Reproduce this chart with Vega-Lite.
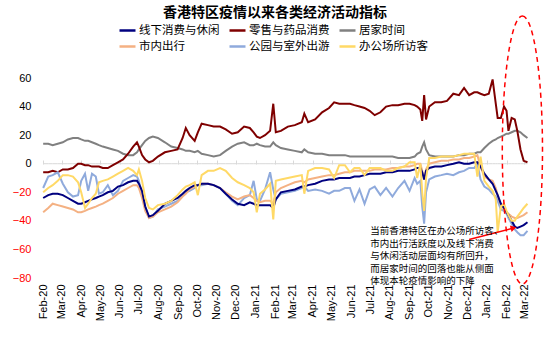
{
  "$schema": "https://vega.github.io/schema/vega-lite/v6.json",
  "width": 490,
  "height": 200,
  "autosize": {"type": "none"},
  "padding": {"left": 40, "top": 78, "right": 20, "bottom": 77},
  "background": "white",
  "title": {"text": "香港特区疫情以来各类经济活动指标", "font": "Noto Sans CJK SC", "fontSize": 14, "fontWeight": "bold", "color": "#000000", "anchor": "middle", "frame": "group", "offset": -7, "dx": -10},
  "config": {"view": {"stroke": null}, "font": "Liberation Sans", "axisY": {"grid": false, "domain": false, "ticks": false, "labelPadding": 9, "labelFontSize": 11, "labelFont": "Liberation Sans", "labelOverlap": false}},
  "data": {"values": [
    {"d": "2020-02-15", "线下消费与休闲": -24, "零售与药品消费": -6, "居家时间": 14, "市内出行": -34, "公园与室外出游": -17, "办公场所访客": -20},
    {"d": "2020-02-23", "线下消费与休闲": -22, "零售与药品消费": -6, "居家时间": 14, "市内出行": -31, "公园与室外出游": -9, "办公场所访客": -17},
    {"d": "2020-03-01", "线下消费与休闲": -21, "零售与药品消费": -5, "居家时间": 13, "市内出行": -28, "公园与室外出游": -8, "办公场所访客": -15},
    {"d": "2020-03-09", "线下消费与休闲": -21, "零售与药品消费": -6, "居家时间": 14, "市内出行": -29, "公园与室外出游": -6, "办公场所访客": -12},
    {"d": "2020-03-17", "线下消费与休闲": -22, "零售与药品消费": -4, "居家时间": 15, "市内出行": -30, "公园与室外出游": -14, "办公场所访客": -8},
    {"d": "2020-03-25", "线下消费与休闲": -24, "零售与药品消费": -4, "居家时间": 17, "市内出行": -31, "公园与室外出游": -20, "办公场所访客": -8},
    {"d": "2020-04-02", "线下消费与休闲": -26, "零售与药品消费": -3, "居家时间": 18, "市内出行": -32, "公园与室外出游": -23, "办公场所访客": -9},
    {"d": "2020-04-10", "线下消费与休闲": -28, "零售与药品消费": 0, "居家时间": 18, "市内出行": -34, "公园与室外出游": -22, "办公场所访客": -13},
    {"d": "2020-04-15", "线下消费与休闲": -28, "零售与药品消费": 0, "居家时间": 17, "市内出行": -34, "公园与室外出游": -12, "办公场所访客": -20},
    {"d": "2020-04-21", "线下消费与休闲": -27, "零售与药品消费": -1, "居家时间": 16, "市内出行": -33, "公园与室外出游": -7, "办公场所访客": -31},
    {"d": "2020-04-26", "线下消费与休闲": -26, "零售与药品消费": -1, "居家时间": 16, "市内出行": -32, "公园与室外出游": -19, "办公场所访客": -28},
    {"d": "2020-05-02", "线下消费与休闲": -25, "零售与药品消费": -2, "居家时间": 15, "市内出行": -31, "公园与室外出游": -7, "办公场所访客": -24},
    {"d": "2020-05-08", "线下消费与休闲": -24, "零售与药品消费": -2, "居家时间": 14, "市内出行": -30, "公园与室外出游": -9, "办公场所访客": -21},
    {"d": "2020-05-13", "线下消费与休闲": -23, "零售与药品消费": -2, "居家时间": 13, "市内出行": -29, "公园与室外出游": -21, "办公场所访客": -13},
    {"d": "2020-05-19", "线下消费与休闲": -22, "零售与药品消费": -3, "居家时间": 12, "市内出行": -28, "公园与室外出游": -20, "办公场所访客": -12},
    {"d": "2020-05-27", "线下消费与休闲": -20, "零售与药品消费": -3, "居家时间": 11, "市内出行": -26, "公园与室外出游": -15, "办公场所访客": -11},
    {"d": "2020-06-04", "线下消费与休闲": -19, "零售与药品消费": -1, "居家时间": 10, "市内出行": -24, "公园与室外出游": -22, "办公场所访客": -9},
    {"d": "2020-06-12", "线下消费与休闲": -16, "零售与药品消费": 1, "居家时间": 9, "市内出行": -21, "公园与室外出游": -19, "办公场所访客": -7},
    {"d": "2020-06-20", "线下消费与休闲": -15, "零售与药品消费": 3, "居家时间": 7, "市内出行": -19, "公园与室外出游": -12, "办公场所访客": -5},
    {"d": "2020-06-28", "线下消费与休闲": -13, "零售与药品消费": 7, "居家时间": 6, "市内出行": -17, "公园与室外出游": -10, "办公场所访客": -3},
    {"d": "2020-07-06", "线下消费与休闲": -12, "零售与药品消费": 12, "居家时间": 6, "市内出行": -15, "公园与室外出游": -8, "办公场所访客": -5},
    {"d": "2020-07-12", "线下消费与休闲": -12, "零售与药品消费": 15, "居家时间": 8, "市内出行": -15, "公园与室外出游": -9, "办公场所访客": -8},
    {"d": "2020-07-15", "线下消费与休闲": -14, "零售与药品消费": 12, "居家时间": 10, "市内出行": -17, "公园与室外出游": -12, "办公场所访客": -4},
    {"d": "2020-07-20", "线下消费与休闲": -19, "零售与药品消费": 6, "居家时间": 13, "市内出行": -24, "公园与室外出游": -22, "办公场所访客": -12},
    {"d": "2020-07-25", "线下消费与休闲": -30, "零售与药品消费": 3, "居家时间": 16, "市内出行": -33, "公园与室外出游": -30, "办公场所访客": -24},
    {"d": "2020-07-31", "线下消费与休闲": -37, "零售与药品消费": 1, "居家时间": 18, "市内出行": -38, "公园与室外出游": -38, "办公场所访客": -31},
    {"d": "2020-08-06", "线下消费与休闲": -36, "零售与药品消费": 2, "居家时间": 19, "市内出行": -37, "公园与室外出游": -37, "办公场所访客": -32},
    {"d": "2020-08-14", "线下消费与休闲": -33, "零售与药品消费": 5, "居家时间": 18, "市内出行": -34, "公园与室外出游": -32, "办公场所访客": -29},
    {"d": "2020-08-25", "线下消费与休闲": -28, "零售与药品消费": 8, "居家时间": 15, "市内出行": -32, "公园与室外出游": -30, "办公场所访客": -28},
    {"d": "2020-09-04", "线下消费与休闲": -26, "零售与药品消费": 9, "居家时间": 12, "市内出行": -30, "公园与室外出游": -28, "办公场所访客": -26},
    {"d": "2020-09-14", "线下消费与休闲": -24, "零售与药品消费": 10, "居家时间": 11, "市内出行": -27, "公园与室外出游": -26, "办公场所访客": -22},
    {"d": "2020-09-22", "线下消费与休闲": -21, "零售与药品消费": 18, "居家时间": 10, "市内出行": -23, "公园与室外出游": -22, "办公场所访客": -18},
    {"d": "2020-09-27", "线下消费与休闲": -19, "零售与药品消费": 25, "居家时间": 9, "市内出行": -21, "公园与室外出游": -20, "办公场所访客": -16},
    {"d": "2020-10-03", "线下消费与休闲": -17, "零售与药品消费": 20, "居家时间": 9, "市内出行": -18, "公园与室外出游": -19, "办公场所访客": -15},
    {"d": "2020-10-11", "线下消费与休闲": -15, "零售与药品消费": 16, "居家时间": 8, "市内出行": -16, "公园与室外出游": -17, "办公场所访客": -13},
    {"d": "2020-10-16", "线下消费与休闲": -15, "零售与药品消费": 22, "居家时间": 9, "市内出行": -15, "公园与室外出游": -15, "办公场所访客": -22},
    {"d": "2020-10-22", "线下消费与休闲": -14, "零售与药品消费": 28, "居家时间": 7, "市内出行": -14, "公园与室外出游": -15, "办公场所访客": -8},
    {"d": "2020-11-01", "线下消费与休闲": -14, "零售与药品消费": 27, "居家时间": 6, "市内出行": -14, "公园与室外出游": -14, "办公场所访客": -5},
    {"d": "2020-11-10", "线下消费与休闲": -15, "零售与药品消费": 26, "居家时间": 5, "市内出行": -15, "公园与室外出游": -15, "办公场所访客": -5},
    {"d": "2020-11-20", "线下消费与休闲": -17, "零售与药品消费": 26, "居家时间": 6, "市内出行": -17, "公园与室外出游": -17, "办公场所访客": -3},
    {"d": "2020-11-29", "线下消费与休闲": -21, "零售与药品消费": 24, "居家时间": 9, "市内出行": -20, "公园与室外出游": -21, "办公场所访客": -5},
    {"d": "2020-12-09", "线下消费与休闲": -25, "零售与药品消费": 21, "居家时间": 12, "市内出行": -23, "公园与室外出游": -26, "办公场所访客": -10},
    {"d": "2020-12-18", "线下消费与休闲": -28, "零售与药品消费": 22, "居家时间": 14, "市内出行": -25, "公园与室外出游": -29, "办公场所访客": -13},
    {"d": "2020-12-28", "线下消费与休闲": -29, "零售与药品消费": 26, "居家时间": 15, "市内出行": -23, "公园与室外出游": -24, "办公场所访客": -15},
    {"d": "2021-01-06", "线下消费与休闲": -27, "零售与药品消费": 25, "居家时间": 13, "市内出行": -22, "公园与室外出游": -22, "办公场所访客": -17},
    {"d": "2021-01-12", "线下消费与休闲": -28, "零售与药品消费": 22, "居家时间": 13, "市内出行": -24, "公园与室外出游": -12, "办公场所访客": -20},
    {"d": "2021-01-17", "线下消费与休闲": -29, "零售与药品消费": 19, "居家时间": 14, "市内出行": -26, "公园与室外出游": -25, "办公场所访客": -34},
    {"d": "2021-01-22", "线下消费与休闲": -29, "零售与药品消费": 18, "居家时间": 13, "市内出行": -27, "公园与室外出游": -26, "办公场所访客": -21},
    {"d": "2021-01-30", "线下消费与休闲": -29, "零售与药品消费": 20, "居家时间": 12, "市内出行": -26, "公园与室外出游": -18, "办公场所访客": -18},
    {"d": "2021-02-07", "线下消费与休闲": -29, "零售与药品消费": 23, "居家时间": 12, "市内出行": -26, "公园与室外出游": -6, "办公场所访客": -14},
    {"d": "2021-02-12", "线下消费与休闲": -31, "零售与药品消费": 42, "居家时间": 15, "市内出行": -28, "公园与室外出游": -18, "办公场所访客": -39},
    {"d": "2021-02-16", "线下消费与休闲": -25, "零售与药品消费": 22, "居家时间": 13, "市内出行": -20, "公园与室外出游": -25, "办公场所访客": -12},
    {"d": "2021-02-24", "线下消费与休闲": -20, "零售与药品消费": 23, "居家时间": 11, "市内出行": -17, "公园与室外出游": -21, "办公场所访客": -11},
    {"d": "2021-03-07", "线下消费与休闲": -19, "零售与药品消费": 26, "居家时间": 10, "市内出行": -15, "公园与室外出游": -20, "办公场所访客": -10},
    {"d": "2021-03-18", "线下消费与休闲": -18, "零售与药品消费": 27, "居家时间": 9, "市内出行": -13, "公园与室外出游": -19, "办公场所访客": -9},
    {"d": "2021-03-29", "线下消费与休闲": -16, "零售与药品消费": 29, "居家时间": 8, "市内出行": -12, "公园与室外出游": -17, "办公场所访客": -8},
    {"d": "2021-04-02", "线下消费与休闲": -16, "零售与药品消费": 35, "居家时间": 10, "市内出行": -13, "公园与室外出游": -16, "办公场所访客": -21},
    {"d": "2021-04-08", "线下消费与休闲": -15, "零售与药品消费": 29, "居家时间": 8, "市内出行": -11, "公园与室外出游": -19, "办公场所访客": -5},
    {"d": "2021-04-19", "线下消费与休闲": -14, "零售与药品消费": 31, "居家时间": 7, "市内出行": -10, "公园与室外出游": -18, "办公场所访客": -3},
    {"d": "2021-04-30", "线下消费与休闲": -12, "零售与药品消费": 36, "居家时间": 7, "市内出行": -9, "公园与室外出游": -19, "办公场所访客": -3},
    {"d": "2021-05-11", "线下消费与休闲": -11, "零售与药品消费": 39, "居家时间": 6, "市内出行": -8, "公园与室外出游": -21, "办公场所访客": -4},
    {"d": "2021-05-19", "线下消费与休闲": -11, "零售与药品消费": 43, "居家时间": 6, "市内出行": -8, "公园与室外出游": -19, "办公场所访客": -10},
    {"d": "2021-05-27", "线下消费与休闲": -10, "零售与药品消费": 42, "居家时间": 6, "市内出行": -7, "公园与室外出游": -19, "办公场所访客": -1},
    {"d": "2021-06-05", "线下消费与休闲": -10, "零售与药品消费": 42, "居家时间": 6, "市内出行": -6, "公园与室外出游": -17, "办公场所访客": -1},
    {"d": "2021-06-13", "线下消费与休闲": -10, "零售与药品消费": 42, "居家时间": 5, "市内出行": -6, "公园与室外出游": -17, "办公场所访客": -6},
    {"d": "2021-06-20", "线下消费与休闲": -9, "零售与药品消费": 41, "居家时间": 5, "市内出行": -5, "公园与室外出游": -26, "办公场所访客": -3},
    {"d": "2021-06-28", "线下消费与休闲": -9, "零售与药品消费": 40, "居家时间": 5, "市内出行": -5, "公园与室外出游": -18, "办公场所访客": -3},
    {"d": "2021-07-06", "线下消费与休闲": -8, "零售与药品消费": 39, "居家时间": 5, "市内出行": -5, "公园与室外出游": -28, "办公场所访客": -8},
    {"d": "2021-07-14", "线下消费与休闲": -7, "零售与药品消费": 37, "居家时间": 5, "市内出行": -5, "公园与室外出游": -18, "办公场所访客": -3},
    {"d": "2021-07-22", "线下消费与休闲": -7, "零售与药品消费": 34, "居家时间": 5, "市内出行": -4, "公园与室外出游": -16, "办公场所访客": -3},
    {"d": "2021-07-31", "线下消费与休闲": -7, "零售与药品消费": 36, "居家时间": 5, "市内出行": -4, "公园与室外出游": -22, "办公场所访客": -3},
    {"d": "2021-08-09", "线下消费与休闲": -6, "零售与药品消费": 40, "居家时间": 5, "市内出行": -4, "公园与室外出游": -17, "办公场所访客": -5},
    {"d": "2021-08-19", "线下消费与休闲": -6, "零售与药品消费": 41, "居家时间": 5, "市内出行": -3, "公园与室外出游": -23, "办公场所访客": -5},
    {"d": "2021-08-28", "线下消费与休闲": -5, "零售与药品消费": 41, "居家时间": 4, "市内出行": -3, "公园与室外出游": -17, "办公场所访客": -3},
    {"d": "2021-09-07", "线下消费与休闲": -5, "零售与药品消费": 42, "居家时间": 4, "市内出行": -2, "公园与室外出游": -12, "办公场所访客": -2},
    {"d": "2021-09-15", "线下消费与休闲": -5, "零售与药品消费": 42, "居家时间": 4, "市内出行": -2, "公园与室外出游": -19, "办公场所访客": 1},
    {"d": "2021-09-23", "线下消费与休闲": -4, "零售与药品消费": 41, "居家时间": 5, "市内出行": -1, "公园与室外出游": -10, "办公场所访客": 1},
    {"d": "2021-09-27", "线下消费与休闲": -3, "零售与药品消费": 40, "居家时间": 7, "市内出行": 0, "公园与室外出游": -14, "办公场所访客": -10},
    {"d": "2021-10-02", "线下消费与休闲": -3, "零售与药品消费": 38, "居家时间": 8, "市内出行": 0, "公园与室外出游": -12, "办公场所访客": 0},
    {"d": "2021-10-05", "线下消费与休闲": -6, "零售与药品消费": 30, "居家时间": 12, "市内出行": -5, "公园与室外出游": -30, "办公场所访客": -20},
    {"d": "2021-10-08", "线下消费与休闲": -11, "零售与药品消费": 48, "居家时间": 15, "市内出行": -11, "公园与室外出游": -42, "办公场所访客": -33},
    {"d": "2021-10-11", "线下消费与休闲": -5, "零售与药品消费": 31, "居家时间": 10, "市内出行": -4, "公园与室外出游": -20, "办公场所访客": -10},
    {"d": "2021-10-16", "线下消费与休闲": -3, "零售与药品消费": 40, "居家时间": 6, "市内出行": 0, "公园与室外出游": -11, "办公场所访客": 4},
    {"d": "2021-10-25", "线下消费与休闲": -2, "零售与药品消费": 43, "居家时间": 5, "市内出行": 1, "公园与室外出游": -9, "办公场所访客": 4},
    {"d": "2021-11-04", "线下消费与休闲": -2, "零售与药品消费": 43, "居家时间": 5, "市内出行": 2, "公园与室外出游": -8, "办公场所访客": 5},
    {"d": "2021-11-13", "线下消费与休闲": -1, "零售与药品消费": 44, "居家时间": 5, "市内出行": 2, "公园与室外出游": -7, "办公场所访客": 5},
    {"d": "2021-11-23", "线下消费与休闲": 0, "零售与药品消费": 49, "居家时间": 5, "市内出行": 3, "公园与室外出游": -8, "办公场所访客": 5},
    {"d": "2021-12-02", "线下消费与休闲": 1, "零售与药品消费": 48, "居家时间": 6, "市内出行": 3, "公园与室外出游": -6, "办公场所访客": 6},
    {"d": "2021-12-10", "线下消费与休闲": 0, "零售与药品消费": 53, "居家时间": 6, "市内出行": 4, "公园与室外出游": -5, "办公场所访客": 7},
    {"d": "2021-12-18", "线下消费与休闲": 0, "零售与药品消费": 48, "居家时间": 7, "市内出行": 4, "公园与室外出游": -3, "办公场所访客": 7},
    {"d": "2021-12-26", "线下消费与休闲": 1, "零售与药品消费": 50, "居家时间": 7, "市内出行": 5, "公园与室外出游": -3, "办公场所访客": 7},
    {"d": "2021-12-31", "线下消费与休闲": 1, "零售与药品消费": 50, "居家时间": 8, "市内出行": 6, "公园与室外出游": 0, "办公场所访客": -9},
    {"d": "2022-01-05", "线下消费与休闲": -2, "零售与药品消费": 49, "居家时间": 8, "市内出行": -2, "公园与室外出游": -11, "办公场所访客": 5},
    {"d": "2022-01-11", "线下消费与休闲": -7, "零售与药品消费": 48, "居家时间": 11, "市内出行": -9, "公园与室外出游": -16, "办公场所访客": -12},
    {"d": "2022-01-18", "线下消费与休闲": -11, "零售与药品消费": 49, "居家时间": 14, "市内出行": -11, "公园与室外出游": -18, "办公场所访客": -16},
    {"d": "2022-01-24", "线下消费与休闲": -14, "零售与药品消费": 59, "居家时间": 16, "市内出行": -12, "公园与室外出游": -21, "办公场所访客": -19},
    {"d": "2022-01-29", "线下消费与休闲": -19, "零售与药品消费": 42, "居家时间": 17, "市内出行": -17, "公园与室外出游": -23, "办公场所访客": -25},
    {"d": "2022-02-01", "线下消费与休闲": -22, "零售与药品消费": 32, "居家时间": 18, "市内出行": -22, "公园与室外出游": -26, "办公场所访客": -48},
    {"d": "2022-02-06", "线下消费与休闲": -28, "零售与药品消费": 32, "居家时间": 19, "市内出行": -29, "公园与室外出游": -32, "办公场所访客": -30},
    {"d": "2022-02-11", "线下消费与休闲": -31, "零售与药品消费": 40, "居家时间": 20, "市内出行": -32, "公园与室外出游": -33, "办公场所访客": -28},
    {"d": "2022-02-15", "线下消费与休闲": -34, "零售与药品消费": 37, "居家时间": 21, "市内出行": -34, "公园与室外出游": -35, "办公场所访客": -33},
    {"d": "2022-02-18", "线下消费与休闲": -36, "零售与药品消费": 23, "居家时间": 21, "市内出行": -35, "公园与室外出游": -38, "办公场所访客": -36},
    {"d": "2022-02-23", "线下消费与休闲": -40, "零售与药品消费": 32, "居家时间": 22, "市内出行": -37, "公园与室外出游": -42, "办公场所访客": -40},
    {"d": "2022-02-28", "线下消费与休闲": -44, "零售与药品消费": 31, "居家时间": 23, "市内出行": -38, "公园与室外出游": -46, "办公场所访客": -40},
    {"d": "2022-03-04", "线下消费与休闲": -45, "零售与药品消费": 23, "居家时间": 23, "市内出行": -38, "公园与室外出游": -48, "办公场所访客": -37},
    {"d": "2022-03-09", "线下消费与休闲": -44, "零售与药品消费": 10, "居家时间": 22, "市内出行": -37, "公园与室外出游": -50, "办公场所访客": -34},
    {"d": "2022-03-14", "线下消费与休闲": -43, "零售与药品消费": 2, "居家时间": 20, "市内出行": -36, "公园与室外出游": -50, "办公场所访客": -31},
    {"d": "2022-03-20", "线下消费与休闲": -41, "零售与药品消费": 1, "居家时间": 18, "市内出行": -34, "公园与室外出游": -47, "办公场所访客": -28}
  ]},
  "resolve": {"axis": {"x": "independent"}},
  "layer": [
    {
      "mark": {"type": "line", "color": "#d9d9d9", "strokeWidth": 1},
      "encoding": {
        "x": {"field": "d", "type": "temporal",
          "scale": {"type": "utc", "domain": [{"year": 2020, "month": 2, "date": 10, "utc": true}, {"year": 2022, "month": 3, "date": 24, "utc": true}]},
          "axis": {"orient": "top", "offset": -86, "domain": false, "ticks": true, "tickSize": 4, "tickColor": "#d9d9d9", "labels": false, "grid": false, "title": null,
            "values": [
              {"year": 2020, "month": 2, "date": 15, "utc": true}, {"year": 2020, "month": 3, "date": 15, "utc": true}, {"year": 2020, "month": 4, "date": 15, "utc": true}, {"year": 2020, "month": 5, "date": 15, "utc": true}, {"year": 2020, "month": 6, "date": 15, "utc": true}, {"year": 2020, "month": 7, "date": 15, "utc": true}, {"year": 2020, "month": 8, "date": 15, "utc": true}, {"year": 2020, "month": 9, "date": 15, "utc": true}, {"year": 2020, "month": 10, "date": 15, "utc": true}, {"year": 2020, "month": 11, "date": 15, "utc": true}, {"year": 2020, "month": 12, "date": 15, "utc": true},
              {"year": 2021, "month": 1, "date": 15, "utc": true}, {"year": 2021, "month": 2, "date": 15, "utc": true}, {"year": 2021, "month": 3, "date": 15, "utc": true}, {"year": 2021, "month": 4, "date": 15, "utc": true}, {"year": 2021, "month": 5, "date": 15, "utc": true}, {"year": 2021, "month": 6, "date": 15, "utc": true}, {"year": 2021, "month": 7, "date": 15, "utc": true}, {"year": 2021, "month": 8, "date": 15, "utc": true}, {"year": 2021, "month": 9, "date": 15, "utc": true}, {"year": 2021, "month": 10, "date": 15, "utc": true}, {"year": 2021, "month": 11, "date": 15, "utc": true}, {"year": 2021, "month": 12, "date": 15, "utc": true},
              {"year": 2022, "month": 1, "date": 15, "utc": true}, {"year": 2022, "month": 2, "date": 15, "utc": true}, {"year": 2022, "month": 3, "date": 15, "utc": true}
            ]}},
        "y": {"datum": 0, "type": "quantitative", "scale": {"domain": [-80, 60], "nice": false},
          "axis": {"title": null, "labelOverlap": false, "values": [-80, -60, -40, -20, 0, 20, 40, 60], "labelColor": {"condition": {"test": "datum.value < 0", "value": "#ff0000"}, "value": "#000000"}}}
      }
    },
    {
      "transform": [{"fold": ["居家时间", "零售与药品消费", "公园与室外出游", "市内出行", "线下消费与休闲", "办公场所访客"], "as": ["series", "value"]}],
      "mark": {"type": "line", "strokeWidth": 2},
      "encoding": {
        "x": {"field": "d", "type": "temporal",
          "scale": {"type": "utc", "domain": [{"year": 2020, "month": 2, "date": 10, "utc": true}, {"year": 2022, "month": 3, "date": 24, "utc": true}]},
          "axis": {"orient": "bottom", "format": "%b-%y", "labelAngle": 270, "labelAlign": "right", "labelBaseline": "middle", "labelPadding": 6, "labelFontSize": 11, "labelFont": "Liberation Sans", "labelColor": "#000000", "ticks": false, "domain": false, "grid": false, "title": null, "labelOverlap": false, "labelFlush": false,
            "values": [
              {"year": 2020, "month": 2, "date": 15, "utc": true}, {"year": 2020, "month": 3, "date": 15, "utc": true}, {"year": 2020, "month": 4, "date": 15, "utc": true}, {"year": 2020, "month": 5, "date": 15, "utc": true}, {"year": 2020, "month": 6, "date": 15, "utc": true}, {"year": 2020, "month": 7, "date": 15, "utc": true}, {"year": 2020, "month": 8, "date": 15, "utc": true}, {"year": 2020, "month": 9, "date": 15, "utc": true}, {"year": 2020, "month": 10, "date": 15, "utc": true}, {"year": 2020, "month": 11, "date": 15, "utc": true}, {"year": 2020, "month": 12, "date": 15, "utc": true},
              {"year": 2021, "month": 1, "date": 15, "utc": true}, {"year": 2021, "month": 2, "date": 15, "utc": true}, {"year": 2021, "month": 3, "date": 15, "utc": true}, {"year": 2021, "month": 4, "date": 15, "utc": true}, {"year": 2021, "month": 5, "date": 15, "utc": true}, {"year": 2021, "month": 6, "date": 15, "utc": true}, {"year": 2021, "month": 7, "date": 15, "utc": true}, {"year": 2021, "month": 8, "date": 15, "utc": true}, {"year": 2021, "month": 9, "date": 15, "utc": true}, {"year": 2021, "month": 10, "date": 15, "utc": true}, {"year": 2021, "month": 11, "date": 15, "utc": true}, {"year": 2021, "month": 12, "date": 15, "utc": true},
              {"year": 2022, "month": 1, "date": 15, "utc": true}, {"year": 2022, "month": 2, "date": 15, "utc": true}, {"year": 2022, "month": 3, "date": 15, "utc": true}
            ]}},
        "y": {"field": "value", "type": "quantitative", "scale": {"domain": [-80, 60], "nice": false},
          "axis": {"title": null, "labelOverlap": false, "values": [-80, -60, -40, -20, 0, 20, 40, 60], "labelColor": {"condition": {"test": "datum.value < 0", "value": "#ff0000"}, "value": "#000000"}}},
        "color": {"field": "series", "type": "nominal",
          "scale": {"domain": ["线下消费与休闲", "零售与药品消费", "居家时间", "市内出行", "公园与室外出游", "办公场所访客"], "range": ["#00007f", "#7f0000", "#808080", "#f4b183", "#8faadc", "#ffd966"]},
          "legend": {"orient": "none", "legendX": 78, "legendY": -57, "columns": 3, "direction": "horizontal", "title": null, "symbolType": "stroke", "symbolSize": 256, "symbolStrokeWidth": 2.5, "labelFont": "Noto Sans CJK SC", "labelFontSize": 11.5, "labelColor": "#000000", "labelOffset": 2, "columnPadding": 4, "rowPadding": 1, "padding": 0}}
      }
    },
    {
      "data": {"values": [{"d": "2022-03-12", "v": 9.6}]},
      "mark": {"type": "point", "shape": "M0,-1 A0.15,1 0 1,1 0,1 A0.15,1 0 1,1 0,-1 Z", "size": 71824, "filled": false, "stroke": "#ff0000", "strokeWidth": 1.5, "strokeDash": [5, 4], "opacity": 1, "clip": false},
      "encoding": {
        "x": {"field": "d", "type": "temporal", "scale": {"type": "utc", "domain": [{"year": 2020, "month": 2, "date": 10, "utc": true}, {"year": 2022, "month": 3, "date": 24, "utc": true}]}, "axis": null},
        "y": {"field": "v", "type": "quantitative", "scale": {"domain": [-80, 60], "nice": false},
          "axis": {"title": null, "labelOverlap": false, "values": [-80, -60, -40, -20, 0, 20, 40, 60], "labelColor": {"condition": {"test": "datum.value < 0", "value": "#ff0000"}, "value": "#000000"}}}
      }
    },
    {
      "data": {"values": [{"d1": "2021-12-18", "v1": -53, "d2": "2022-02-26", "v2": -45}]},
      "mark": {"type": "rule", "color": "#ff0000", "strokeWidth": 1.5},
      "encoding": {
        "x": {"field": "d1", "type": "temporal", "scale": {"type": "utc", "domain": [{"year": 2020, "month": 2, "date": 10, "utc": true}, {"year": 2022, "month": 3, "date": 24, "utc": true}]}, "axis": null},
        "x2": {"field": "d2"},
        "y": {"field": "v1", "type": "quantitative", "scale": {"domain": [-80, 60], "nice": false},
          "axis": {"title": null, "labelOverlap": false, "values": [-80, -60, -40, -20, 0, 20, 40, 60], "labelColor": {"condition": {"test": "datum.value < 0", "value": "#ff0000"}, "value": "#000000"}}},
        "y2": {"field": "v2"}
      }
    },
    {
      "data": {"values": [{"d2": "2022-02-26", "v2": -45}]},
      "mark": {"type": "point", "shape": "triangle-right", "size": 45, "filled": true, "color": "#ff0000", "angle": -15, "opacity": 1},
      "encoding": {
        "x": {"field": "d2", "type": "temporal", "scale": {"type": "utc", "domain": [{"year": 2020, "month": 2, "date": 10, "utc": true}, {"year": 2022, "month": 3, "date": 24, "utc": true}]}, "axis": null},
        "y": {"field": "v2", "type": "quantitative", "scale": {"domain": [-80, 60], "nice": false},
          "axis": {"title": null, "labelOverlap": false, "values": [-80, -60, -40, -20, 0, 20, 40, 60], "labelColor": {"condition": {"test": "datum.value < 0", "value": "#ff0000"}, "value": "#000000"}}}
      }
    },
    {
      "data": {"values": [{"d": "2021-07-15", "v": -43.6}]},
      "mark": {"type": "text", "text": ["当前香港特区在办公场所访客、", "市内出行活跃度以及线下消费", "与休闲活动层面均有所回升，", "而居家时间的回落也能从侧面", "体现本轮疫情影响的下降"], "align": "left", "baseline": "top", "font": "Noto Sans CJK SC", "fontSize": 9.5, "lineHeight": 12.5, "color": "#000000"},
      "encoding": {
        "x": {"field": "d", "type": "temporal", "scale": {"type": "utc", "domain": [{"year": 2020, "month": 2, "date": 10, "utc": true}, {"year": 2022, "month": 3, "date": 24, "utc": true}]}, "axis": null},
        "y": {"field": "v", "type": "quantitative", "scale": {"domain": [-80, 60], "nice": false},
          "axis": {"title": null, "labelOverlap": false, "values": [-80, -60, -40, -20, 0, 20, 40, 60], "labelColor": {"condition": {"test": "datum.value < 0", "value": "#ff0000"}, "value": "#000000"}}}
      }
    }
  ]
}
